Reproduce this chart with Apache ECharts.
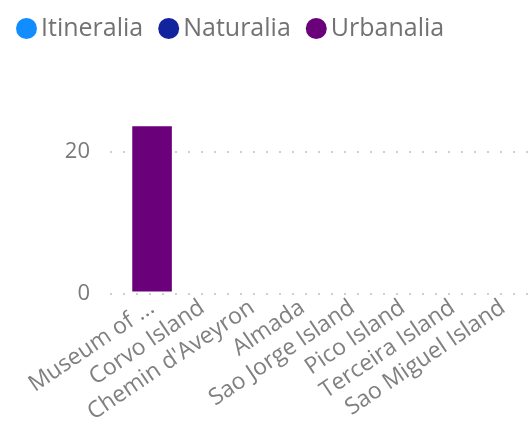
<!DOCTYPE html>
<html><head><meta charset="utf-8">
<script src="https://cdn.jsdelivr.net/npm/echarts@6/dist/echarts.min.js"></script>
<style>html,body{margin:0;padding:0;background:#fff}#c{width:528px;height:426px}</style>
</head><body><div id="c"></div>
<script>
const categories = ["Museum of ...", "Corvo Island", "Chemin d'Aveyron", "Almada", "Sao Jorge Island", "Pico Island", "Terceira Island", "Sao Miguel Island"];
const itineralia = [0, 0, 0, 0, 0, 0, 0, 0];
const naturalia = [0, 0, 0, 0, 0, 0, 0, 0];
const urbanalia = [23.7, 0, 0, 0, 0, 0, 0, 0];
const yTicks = [0, 20];

const font = "'Segoe UI','Open Sans','Noto Sans',sans-serif";
const chart = echarts.init(document.getElementById('c'), null, {renderer: 'canvas'});
const barSeries = (name, data, color) => ({
  name, type: 'bar', data, stack: 'total', xAxisIndex: 1, yAxisIndex: 1,
  itemStyle: {color}, barCategoryGap: '21%', clip: false, silent: true
});
chart.setOption({
  animation: false,
  color: ['#118DFF', '#12239E', '#6B007B'],
  legend: {
    left: 11, top: 11, icon: 'circle', itemWidth: 21, itemHeight: 21, itemGap: 15, padding: [5, 5],
    textStyle: {fontSize: 25, color: '#727272', fontFamily: font, padding: [0, 0, 0, -1]},
    data: ['Itineralia', 'Naturalia', 'Urbanalia']
  },
  grid: [
    {left: 110, right: 0, top: 152, bottom: 132},
    {left: 127, right: -3, top: 152, bottom: 132}
  ],
  xAxis: [
    {type: 'value', gridIndex: 0, show: false},
    {type: 'category', gridIndex: 1, data: categories,
     axisLine: {show: false}, axisTick: {show: false},
     axisLabel: {rotate: 34, interval: 0, margin: 14, fontSize: 23, color: '#808080', fontFamily: font}}
  ],
  yAxis: [
    {type: 'value', gridIndex: 0, min: yTicks[0], max: yTicks[yTicks.length - 1], interval: 20,
     axisLine: {show: false}, axisTick: {show: false},
     axisLabel: {margin: 20, fontSize: 22, color: '#7a7a7a', fontFamily: font},
     splitLine: {lineStyle: {type: [2, 11], width: 2, color: '#cfcfcf'}}},
    {type: 'value', gridIndex: 1, min: yTicks[0], max: yTicks[yTicks.length - 1], show: false, splitLine: {show: false}}
  ],
  series: [
    barSeries('Itineralia', itineralia, '#118DFF'),
    barSeries('Naturalia', naturalia, '#12239E'),
    barSeries('Urbanalia', urbanalia, '#6B007B')
  ]
});
</script></body></html>
